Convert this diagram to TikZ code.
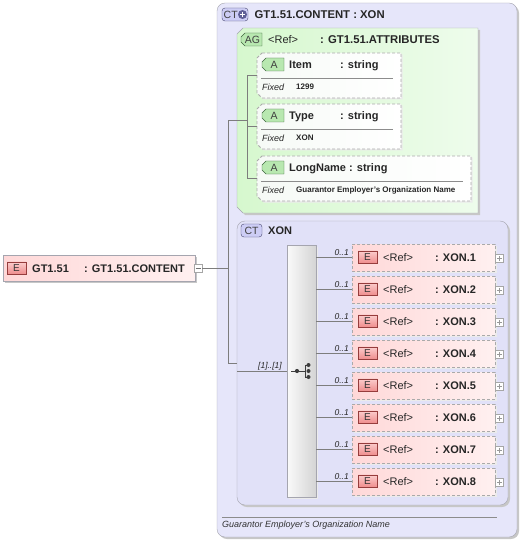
\documentclass[tikz,border=0pt]{standalone}
\usepackage{fontspec}
\setmainfont{Liberation Sans}
\usetikzlibrary{shadows}
\definecolor{lavA}{RGB}{230,230,250}
\definecolor{lavB}{RGB}{225,225,248}
\definecolor{boxline}{RGB}{165,165,175}
\definecolor{ctbadge}{RGB}{205,205,245}
\definecolor{ctbadgeline}{RGB}{70,70,110}
\definecolor{ctplus}{RGB}{95,95,150}
\definecolor{agL}{RGB}{214,248,206}
\definecolor{agR}{RGB}{238,252,236}
\definecolor{attrL}{RGB}{246,250,246}
\definecolor{attrR}{RGB}{255,255,255}
\definecolor{abadge}{RGB}{184,232,176}
\definecolor{abadgeline}{RGB}{60,100,60}
\definecolor{pinkL}{RGB}{255,216,216}
\definecolor{pinkR}{RGB}{255,240,240}
\definecolor{ebadgeT}{RGB}{252,205,205}
\definecolor{ebadgeB}{RGB}{238,140,140}
\definecolor{ebadgeline}{RGB}{150,60,60}
\definecolor{dashline}{RGB}{170,170,170}
\definecolor{connline}{RGB}{125,125,125}
\definecolor{seqL}{RGB}{250,250,250}
\definecolor{seqR}{RGB}{212,212,212}
\definecolor{icon}{RGB}{60,60,60}
\tikzset{
  frame/.style={inner sep=0pt, outer sep=0pt, anchor=north west},
  bshadow/.style={drop shadow={shadow xshift=2pt,shadow yshift=-2pt,fill=black!22,opacity=1}},
  lshadow/.style={drop shadow={shadow xshift=1.5pt,shadow yshift=-1.5pt,fill=black!8,opacity=1}},
  ctouter/.style={frame, draw=boxline, fill=lavA, rounded corners=8pt, bshadow},
  ctinner/.style={frame, draw=boxline, fill=lavB, rounded corners=8pt, bshadow},
  agshape/.style={draw=boxline, left color=agL, right color=agR, bshadow},
  attrshape/.style={draw=dashline, line width=0.8pt, dash pattern=on 3pt off 2pt, left color=attrL, right color=attrR, lshadow},
  elbox/.style={frame, draw=dashline, line width=0.8pt, dash pattern=on 3pt off 2pt, left color=pinkL, right color=pinkR, lshadow},
  elmain/.style={frame, draw=boxline, left color=pinkL, right color=pinkR, bshadow},
  seqbox/.style={frame, draw=boxline, left color=seqL, right color=seqR, lshadow},
  ebadge/.style={inner sep=0pt, draw=ebadgeline, top color=ebadgeT, bottom color=ebadgeB, minimum width=19pt, minimum height=12.5pt, font=\fontsize{10}{10}\selectfont, text=black!80},
  ctbadgest/.style={frame, draw=ctbadgeline, fill=ctbadge, rounded corners=3pt},
  greenbadge/.style={draw=abadgeline, fill=abadge},
  badgetxt/.style={inner sep=0pt, font=\fontsize{10.5}{11}\selectfont, text=black!75},
  plusbox/.style={inner sep=0pt, draw=black!35, fill=white, minimum size=8pt},
  hdr/.style={inner sep=0pt, anchor=base west, font=\bfseries\fontsize{11}{13}\selectfont, text=black!85},
  reg/.style={inner sep=0pt, anchor=base west, font=\fontsize{11}{13}\selectfont, text=black!85},
  fixlbl/.style={inner sep=0pt, anchor=base west, font=\itshape\fontsize{9}{10}\selectfont, text=black!85},
  fixval/.style={inner sep=0pt, anchor=base west, font=\bfseries\fontsize{8}{9}\selectfont, text=black!85},
  card/.style={inner sep=0pt, anchor=base east, font=\itshape\fontsize{8.5}{10}\selectfont, text=black!85},
  conn/.style={draw=connline, line width=0.6pt},
  sepline/.style={draw=black!45, line width=0.6pt}
}
\begin{document}
\begin{tikzpicture}[x=1pt,y=-1pt]
\useasboundingbox (0,0) rectangle (521,540);

% outer complex type
\node[ctouter, minimum width=300pt, minimum height=534pt] (outer) at (217,3) {};
\node[ctbadgest, minimum width=26pt, minimum height=13pt] (ctb1) at (222,8) {};
\node[badgetxt, anchor=west] (ctb1t) at (223.5,14.5) {CT};
\node[circle, inner sep=0pt, minimum size=9pt, fill=ctplus] (ctplusc) at (242.5,14.5) {};
\draw[white, line width=1.2pt] ([xshift=-2.5pt]ctplusc.center) -- ([xshift=2.5pt]ctplusc.center);
\draw[white, line width=1.2pt] ([yshift=-2.5pt]ctplusc.center) -- ([yshift=2.5pt]ctplusc.center);
\node[hdr, font=\bfseries\fontsize{11.3}{13}\selectfont] (outert) at (254.5,18.5) {GT1.51.CONTENT : XON};

% attribute group
\node[frame, minimum width=241pt, minimum height=185pt] (ag) at (237,28) {};
\path[agshape] ([xshift=6pt]ag.north west) -- (ag.north east) -- (ag.south east) -- ([xshift=6pt]ag.south west) -- ([yshift=6pt]ag.south west) -- ([yshift=-6pt]ag.north west) -- cycle;
\node[frame, minimum width=21pt, minimum height=13pt] (agb) at (241,33) {};
\path[greenbadge] ([xshift=4pt]agb.north west) -- (agb.north east) -- (agb.south east) -- ([xshift=4pt]agb.south west) -- ([yshift=4pt]agb.south west) -- ([yshift=-4pt]agb.north west) -- cycle;
\node[badgetxt] (agbt) at ([xshift=1pt]agb.center) {AG};
\node[reg] (agref) at (268,43.5) {<Ref>};
\node[hdr, font=\bfseries\fontsize{11.3}{13}\selectfont] (agt) at (320,43.5) {: GT1.51.ATTRIBUTES};

% attributes
\foreach \n/\yy/\nm/\val/\ww/\cx in {1/53/Item/1299/144/340, 2/104/Type/XON/144/340, 3/156/LongName/{Guarantor Employer's Organization Name}/214/349} {
  \node[frame, minimum width=\ww pt, minimum height=45pt] (attr\n) at (257,\yy) {};
  \path[attrshape] ([xshift=5pt]attr\n.north west) -- (attr\n.north east) -- (attr\n.south east) -- ([xshift=5pt]attr\n.south west) -- ([yshift=5pt]attr\n.south west) -- ([yshift=-5pt]attr\n.north west) -- cycle;
  \node[frame, minimum width=22pt, minimum height=13pt] (ab\n) at (262,\yy+5) {};
  \path[greenbadge] ([xshift=4pt]ab\n.north west) -- (ab\n.north east) -- (ab\n.south east) -- ([xshift=4pt]ab\n.south west) -- ([yshift=4pt]ab\n.south west) -- ([yshift=-4pt]ab\n.north west) -- cycle;
  \node[badgetxt] (abt\n) at ([xshift=1pt]ab\n.center) {A};
  \node[hdr] (an\n) at (289,\yy+15.5) {\nm};
  \node[hdr] (at\n) at (\cx,\yy+15.5) {: string};
  \draw[sepline] (261,\yy+25) -- (257+\ww-8,\yy+25);
  \node[fixlbl] (fl\n) at (262,\yy+37.5) {Fixed};
  \node[fixval] (fv\n) at (296,\yy+37) {\val};
}

% inner complex type
\node[ctinner, minimum width=271pt, minimum height=284pt] (inner) at (237,221) {};
\node[ctbadgest, minimum width=21pt, minimum height=13pt] (ctb2) at (241,224) {};
\node[badgetxt] (ctb2t) at (ctb2.center) {CT};
\node[hdr] (innert) at (268,234.5) {XON};

% sequence
\node[seqbox, minimum width=29pt, minimum height=252pt] (seq) at (287,245) {};
\draw[icon, line width=0.8pt] (291,371) -- (305,371) (305,365) -- (305,377)
  (305,365) -- (308.5,365) (305,377) -- (308.5,377);
\fill[icon] (297,371) circle (2.1);
\fill[icon] (308.5,365) circle (2) (308.5,371) circle (2) (308.5,377) circle (2);

% main element
\node[elmain, minimum width=192pt, minimum height=26pt] (main) at (3,255) {};
\node[ebadge] (mb) at (16.5,268) {E};
\node[hdr] (mname) at (32,272) {GT1.51};
\node[hdr] (mtype) at (84,272) {: GT1.51.CONTENT};
\node[plusbox] (mminus) at (198,268.5) {};
\draw[black!55] ([xshift=-2.5pt]mminus.center) -- ([xshift=2.5pt]mminus.center);

% connectors
\coordinate (jT) at (228,0);
\coordinate (agj) at (247,0);
\draw[conn] (mminus.east) -- (jT |- mminus.east);
\draw[conn] (jT |- ag.west) -- (jT |- inner.west) -- (inner.west);
\draw[conn] (jT |- ag.west) -- (agj |- ag.west);
\draw[conn] (agj |- attr1.west) -- (agj |- attr3.west);
\foreach \n in {1,2,3} { \draw[conn] (agj |- attr\n.west) -- (attr\n.west); }
\draw[conn] (inner.west |- seq.west) -- (seq.west);
\node[card] (seqcard) at (282,368.5) {[1]..[1]};

% child elements
\foreach \i in {1,...,8} {
  \pgfmathsetmacro\ty{244+32*(\i-1)}
  \node[elbox, minimum width=143pt, minimum height=27pt] (e\i) at (352,\ty) {};
  \draw[conn] (seq.east |- e\i.west) -- (e\i.west);
  \node[card] (c\i) at (349,\ty+11) {0..1};
  \node[ebadge] (eb\i) at (367.5,\ty+13) {E};
  \node[reg] (er\i) at (383,\ty+17.5) {<Ref>};
  \node[hdr] (et\i) at (435,\ty+17.5) {: XON.\i};
  \node[plusbox] (p\i) at (499.5,\ty+14.5) {};
  \draw[black!40] ([xshift=-2.5pt]p\i.center) -- ([xshift=2.5pt]p\i.center) ([yshift=-2.5pt]p\i.center) -- ([yshift=2.5pt]p\i.center);
}

% footer
\draw[sepline] (222,517) -- (497,517);
\node[inner sep=0pt, anchor=base west, font=\itshape\fontsize{9}{10}\selectfont, text=black!80] (foot) at (222,527.5) {Guarantor Employer's Organization Name};
\end{tikzpicture}
\end{document}
